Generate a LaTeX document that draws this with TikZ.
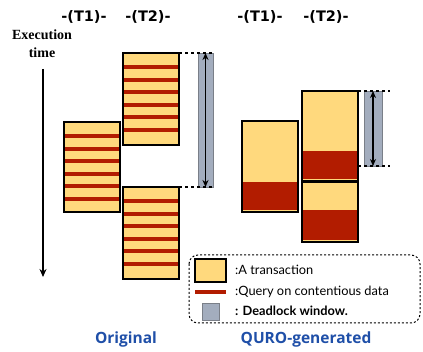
\documentclass[tikz,border=0pt]{standalone}
\usepackage{fontspec}
\newfontfamily\lato{Lato}
\newfontfamily\osans{Open Sans}
\newfontfamily\hdr{DejaVu Sans}
\newfontfamily\serifb{Liberation Serif}
\usetikzlibrary{arrows.meta}
\definecolor{txyel}{HTML}{FFD97D}
\definecolor{qred}{HTML}{B21C00}
\definecolor{dlgrey}{HTML}{A3ADBE}
\definecolor{dledge}{HTML}{7A7F88}
\definecolor{lblue}{HTML}{1F4FA8}
\newcommand\stripedbox[3]{%
  \fill[txyel] (#1,#2) rectangle ++(56,#3);
  \foreach \i in {0,...,5} \fill[qred] ({#1},{#2+12.5+12.5*\i}) rectangle ++(56,4);
  \draw[txedge] (#1,#2) rectangle ++(56,#3);}
\begin{document}
\begin{tikzpicture}[x=1pt,y=-1pt,
  txedge/.style={draw=black,line width=1.1pt},
  dlbar/.style={fill=dlgrey,draw=dledge,line width=0.9pt},
  dlarrow/.style={line width=1.4pt,{Stealth[length=7pt,width=6pt]}-{Stealth[length=7pt,width=6pt]}},
  guide/.style={line width=1.2pt,dash pattern=on 3pt off 3pt},
  hdrtext/.style={font=\hdr\bfseries\fontsize{14.5}{16}\selectfont},
  lbltext/.style={font=\osans\bfseries\fontsize{15.5}{17}\selectfont,text=lblue},
  legtext/.style={font=\lato\fontsize{12.8}{14}\selectfont,anchor=west,inner sep=0pt}]
\useasboundingbox (0,0) rectangle (423,352);
% headers
\node[hdrtext] (h1) at (84,17) {-(T1)-};
\node[hdrtext] (h2) at (148,17) {-(T2)-};
\node[hdrtext] (h3) at (260,17) {-(T1)-};
\node[hdrtext] (h4) at (326,17) {-(T2)-};
\node[font=\serifb\bfseries\fontsize{14}{18}\selectfont,align=center] (et) at (42,44) {Execution\\time};
% time arrow
\coordinate (ta) at (43,69);
\coordinate (tb) at (43,277);
\draw[line width=1.5pt,-{Stealth[length=8pt,width=7pt]}] (ta) -- (tb);
% original
\stripedbox{64}{122}{90}
\stripedbox{123}{53}{92}
\stripedbox{123}{187}{92}
\draw[dlbar] (198,53) rectangle (213,187);
\coordinate (la) at (179,53);
\coordinate (lb) at (179,187);
\coordinate (la2) at (213,53);
\coordinate (lb2) at (213,187);
\draw[guide] (la) -- (la2);
\draw[guide] (lb) -- (lb2);
\coordinate (lat) at (205.5,53);
\coordinate (lbt) at (205.5,187);
\draw[dlarrow] (lat) -- (lbt);
% quro
\fill[txyel] (242,121) rectangle (298,212);
\fill[qred] (242,182) rectangle (298,210);
\draw[txedge] (242,121) rectangle (298,212);
\fill[txyel] (302,91) rectangle (358,181);
\fill[qred] (302,151) rectangle (358,179);
\draw[txedge] (302,91) rectangle (358,181);
\fill[txyel] (302,182) rectangle (358,242);
\fill[qred] (302,210) rectangle (358,240);
\draw[txedge] (302,182) rectangle (358,242);
\draw[dlbar] (364,91) rectangle (382,166);
\coordinate (ra) at (358,91);
\coordinate (rb) at (358,166);
\coordinate (ra2) at (390,91);
\coordinate (rb2) at (390,166);
\draw[guide] (ra) -- (ra2);
\draw[guide] (rb) -- (rb2);
\coordinate (rat) at (373,91);
\coordinate (rbt) at (373,166);
\draw[dlarrow] (rat) -- (rbt);
% legend
\draw[line width=1pt,dash pattern=on 2pt off 2pt,rounded corners=9pt] (189,255) rectangle (420,323);
\draw[fill=txyel,line width=1.1pt] (195,259) rectangle (226,282);
\draw[qred,line width=4pt] (195,292) -- (226,292);
\draw[dlbar] (202,303) rectangle (219,320);
\node[legtext] (l1) at (235,270) {:A transaction};
\node[legtext] (l2) at (235,292) {:Query on contentious data};
\node[legtext,font=\lato\bfseries\fontsize{12.8}{14}\selectfont] (l3) at (235,311) {: Deadlock window.};
% labels
\node[lbltext] (o) at (126,339) {Original};
\node[lbltext] (q) at (306,339) {QURO-generated};
\end{tikzpicture}
\end{document}
